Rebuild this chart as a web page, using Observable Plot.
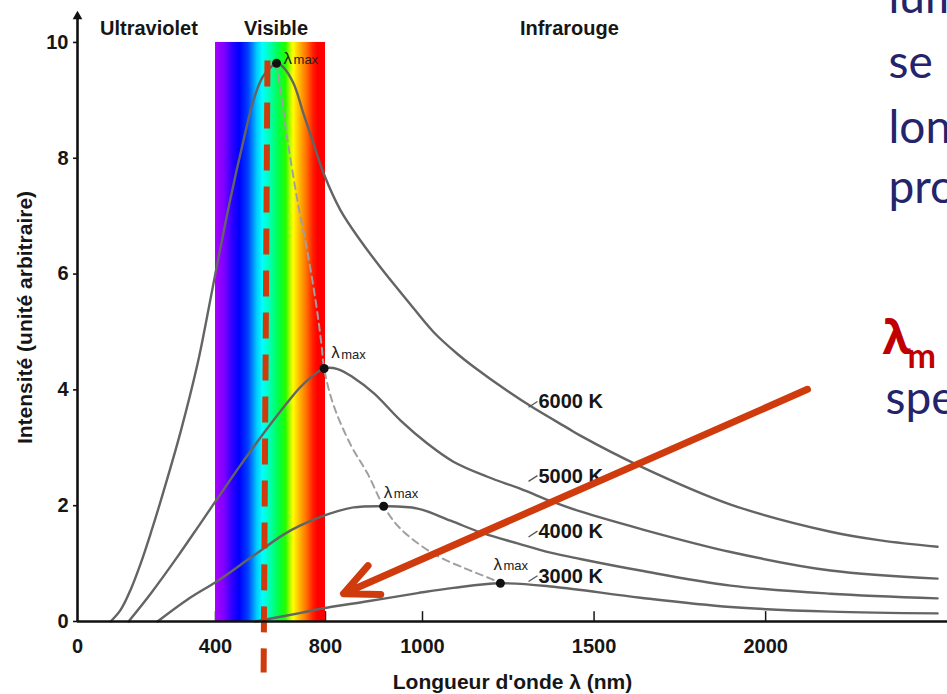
<!DOCTYPE html>
<html><head><meta charset="utf-8">
<script src="https://cdn.jsdelivr.net/npm/d3@7"></script>
<script src="https://cdn.jsdelivr.net/npm/@observablehq/plot@0.6"></script>
<style>
html,body{margin:0;padding:0;background:#fff;}
#chart{position:relative;width:947px;height:694px;overflow:hidden;}
</style></head><body><div id="chart"></div>
<script>
// ---- data ----
const xTicks = [0, 400, 800, 1000, 1500, 2000];
const yTicks = [0, 2, 4, 6, 8, 10];
// anchors of the drawn (non-uniform) wavelength axis
const axisAnchorsNm = [0, 400, 800, 1000, 2530];
const axisAnchorsPos = [0, 138, 248, 345, 870];
// wavelength (nm as drawn in the figure), intensity (arbitrary unit)
const curve6000 = [[96,0],[125,0.2],[154,0.55],[183,1.0],[212,1.52],[241,2.08],[299,3.28],[348,4.45],[371,5.12],[411,6.29],[455,7.32],[502,8.31],[538,9.0],[571,9.4],[607,9.6],[622,9.64],[647,9.57],[684,9.29],[720,8.77],[756,8.26],[793,7.74],[831,7.1],[872,6.58],[914,6.11],[969,5.54],[1032,5.0],[1102,4.62],[1149,4.4],[1248,3.98],[1323,3.69],[1423,3.34],[1460,3.21],[1635,2.68],[1898,2.02],[2189,1.55],[2335,1.4],[2501,1.29]];
const curve5000 = [[148,0],[212,0.48],[290,1.12],[357,1.7],[418,2.2],[491,2.7],[575,3.25],[673,3.85],[709,4.05],[756,4.25],[795,4.37],[825,4.36],[858,4.21],[900,3.94],[955,3.47],[1015,3.07],[1090,2.76],[1189,2.5],[1286,2.29],[1382,2.06],[1460,1.9],[1635,1.6],[1898,1.2],[2189,0.88],[2501,0.74]];
const curve4000 = [[232,0],[319,0.38],[407,0.7],[527,1.1],[647,1.5],[709,1.66],[804,1.85],[858,1.97],[920,1.99],[990,1.95],[1082,1.74],[1178,1.52],[1277,1.35],[1373,1.19],[1460,1.08],[1635,0.88],[1898,0.62],[2189,0.48],[2501,0.4]];
const curve3000 = [[545,0],[711,0.15],[782,0.22],[887,0.35],[990,0.49],[1090,0.58],[1227,0.66],[1382,0.6],[1635,0.41],[1898,0.25],[2189,0.17],[2501,0.14]];
const temperatures = ["6000 K", "5000 K", "4000 K", "3000 K"];
const peakLambda = [622, 795, 920, 1227];
const peakIntensity = [9.64, 4.37, 1.99, 0.66];
const lambdaMaxPath = [[622,9.64],[636,9.17],[662,8.31],[698,7.27],[735,6.36],[764,5.54],[785,4.8],[795,4.37],[816,3.75],[852,3.05],[887,2.55],[920,1.99],[955,1.6],[1032,1.17],[1131,0.9],[1198,0.74],[1227,0.66]];
const curveLabelY = [3.79, 2.51, 1.55, 0.78];
const curveLabelX = 1338;
const regionNames = ["Ultraviolet", "Visible", "Infrarouge"];
const regionX = [207, 620, 1428];
const regionY = 10.24;
const visibleBand = [{x1: 400, x2: 800, y1: 0, y2: 10}];
const spectrumStops = [[0,"#a800ff"],[0.08,"#8000ff"],[0.16,"#2a00ff"],[0.22,"#0000ff"],[0.30,"#0040ff"],[0.38,"#00ccff"],[0.43,"#00ffff"],[0.50,"#00ffb0"],[0.57,"#00ff50"],[0.64,"#20ff00"],[0.69,"#ccff00"],[0.71,"#ffff00"],[0.76,"#ffc000"],[0.83,"#ff7000"],[0.89,"#ff2000"],[0.93,"#ff0000"],[1,"#ff0000"]];
const redDashed = [{x1: 589, y1: 9.69, x2: 575, y2: -0.88}];
const redArrow = [{x1: 2122, y1: 4.01, x2: 837, y2: 0.48}];
const sideLines = ["lum", "se", "lon", "pro", "spe"];

// ---- build ----
const warp = d3.scaleLinear().domain(axisAnchorsNm).range(axisAnchorsPos);
const curves = [curve6000, curve5000, curve4000, curve3000];
const lineData = curves.flatMap((c, i) => c.map(([x, y]) => ({T: temperatures[i], x, y})));
const peaks = temperatures.map((T, i) => ({T, x: peakLambda[i], y: peakIntensity[i]}));
const pathData = lambdaMaxPath.map(([x, y]) => ({x, y}));
const labels = temperatures.map((T, i) => ({T, x: curveLabelX, y: curveLabelY[i]}));
const regions = regionNames.map((name, i) => ({name, x: regionX[i], y: regionY}));
const peakOffsets = [[7,-5],[7,-16],[0,-14],[-7,-19]];
const sideOffsets = [[811,-1],[811,64],[811,129],[811,189],[808,400]];

const dark = "#161616";
const red = "#cf3b0c";
const font = "'Liberation Sans', Arial, Helvetica, sans-serif";
const X = k => d => warp(d[k]);

const marks = [
  Plot.ruleX([400, 800, 1000, 1500, 2000], {x: d => warp(d), y1: 0, y2: 0.17, stroke: dark, strokeWidth: 1.5}),
  Plot.rect(visibleBand, {x1: X("x1"), x2: X("x2"), y1: "y1", y2: "y2", fill: "url(#spectrum)"}),
  Plot.line(lineData, {x: X("x"), y: "y", z: "T", stroke: "#646464", strokeWidth: 2.4, curve: "catmull-rom"}),
  Plot.line(pathData, {x: X("x"), y: "y", stroke: "#a0a0a0", strokeWidth: 2, strokeDasharray: "7,5", curve: "catmull-rom"}),
  Plot.dot(peaks, {x: X("x"), y: "y", r: 4.5, fill: "#111", stroke: "none"}),
  ...peaks.flatMap((p, i) => [
    Plot.text([p], {x: X("x"), y: "y", text: () => "λ", dx: peakOffsets[i][0], dy: peakOffsets[i][1], textAnchor: "start", fontSize: 17, fill: "#222", fontWeight: "normal"}),
    Plot.text([p], {x: X("x"), y: "y", text: () => "max", dx: peakOffsets[i][0] + 10, dy: peakOffsets[i][1] + 2, textAnchor: "start", fontSize: 13, fill: "#222", fontWeight: "normal"})
  ]),
  Plot.link(labels, {x1: () => warp(curveLabelX - 29), x2: () => warp(curveLabelX - 3), y1: d => d.y - 0.09, y2: d => d.y + 0.01, stroke: "#555", strokeWidth: 1.3}),
  Plot.text(labels, {x: X("x"), y: "y", text: "T", textAnchor: "start", fontSize: 20, fontWeight: "bold", fill: dark}),
  Plot.text(regions, {x: X("x"), y: "y", text: "name", fontSize: 20, fontWeight: "bold", fill: dark}),
  Plot.link(redDashed, {x1: X("x1"), y1: "y1", x2: X("x2"), y2: "y2", stroke: red, strokeWidth: 6, strokeDasharray: "26,16"}),
  Plot.arrow(redArrow, {x1: X("x1"), y1: "y1", x2: X("x2"), y2: "y2", stroke: red, strokeWidth: 7, headAngle: 50, headLength: 8}),
  Plot.ruleY([0], {stroke: "#111", strokeWidth: 2.6}),
  Plot.ruleX([0], {x: d => warp(d), y1: 0, y2: 10.4, stroke: "#111", strokeWidth: 2.6}),
  Plot.dot([{x: 0, y: 10.45}], {x: X("x"), y: "y", symbol: "triangle", r: 3.6, fill: "#111", stroke: "none"}),
  Plot.axisX(xTicks, {x: d => warp(d), tickSize: 0, tickPadding: 17, label: null, tickFormat: d => String(d), fontSize: 20, fontWeight: "bold", fill: dark}),
  Plot.axisY(yTicks, {tickSize: 4, tickPadding: 5, label: null, tickFormat: d => String(d), fontSize: 20, fontWeight: "bold", fill: dark, stroke: "#111", strokeWidth: 1.6}),
  Plot.text(["Longueur d'onde λ (nm)"], {frameAnchor: "bottom", dy: 67, lineAnchor: "bottom", textAnchor: "middle", text: d => d, fontSize: 21, fontWeight: "bold", fill: dark}),
  Plot.text(["Intensité (unité arbitraire)"], {frameAnchor: "left", dx: -52, rotate: -90, textAnchor: "middle", lineAnchor: "middle", text: d => d, fontSize: 21, fontWeight: "bold", fill: dark}),
  ...sideLines.map((s, i) => Plot.text([s], {frameAnchor: "top-left", dx: sideOffsets[i][0], dy: sideOffsets[i][1], text: d => d, textAnchor: "start", lineAnchor: "bottom", fontSize: 46, fontFamily: "Lato, 'Open Sans', sans-serif", fontWeight: "normal", fill: "#23246b"})),
  Plot.text(["λ"], {frameAnchor: "top-left", dx: 805, dy: 340, text: d => d, textAnchor: "start", lineAnchor: "bottom", fontSize: 46, fontFamily: "'Open Sans', Lato, sans-serif", fontWeight: "bold", fill: "#c00000"}),
  Plot.text(["m"], {frameAnchor: "top-left", dx: 830, dy: 354, text: d => d, textAnchor: "start", lineAnchor: "bottom", fontSize: 34, fontFamily: "Lato, 'Open Sans', sans-serif", fontWeight: "bold", fill: "#c00000"})
];

const plot = Plot.plot({
  width: 947,
  height: 694,
  marginLeft: 77,
  marginRight: 0,
  marginTop: 13,
  marginBottom: 73,
  style: {fontFamily: font, fontSize: "20px", background: "#fff", overflow: "hidden"},
  x: {type: "linear", domain: [0, 870]},
  y: {domain: [0, 10.5]},
  marks
});

const defs = d3.select(plot).insert("defs", ":first-child");
const grad = defs.append("linearGradient").attr("id", "spectrum")
  .attr("x1", "0").attr("x2", "1").attr("y1", "0").attr("y2", "0");
grad.selectAll("stop").data(spectrumStops).join("stop")
  .attr("offset", d => d[0]).attr("stop-color", d => d[1]);

document.getElementById("chart").appendChild(plot);
</script></body></html>
